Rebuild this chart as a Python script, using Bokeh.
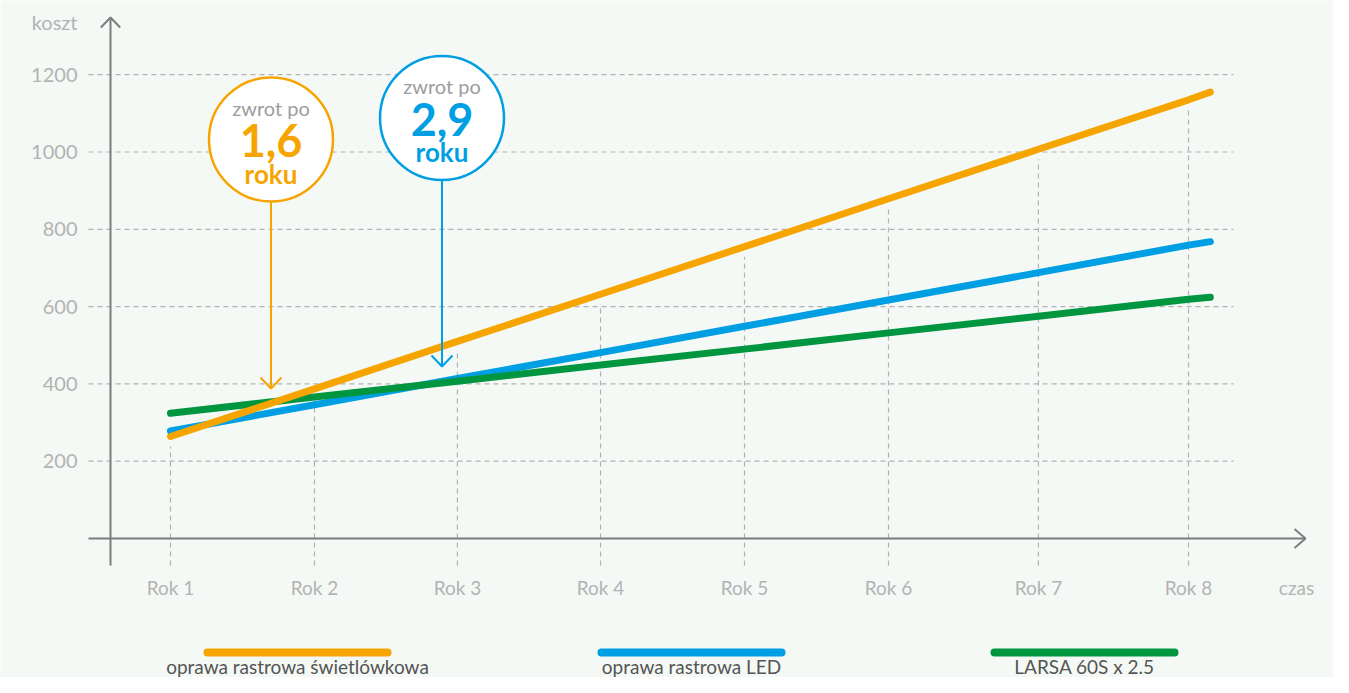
from bokeh.plotting import figure
from bokeh.models import Range1d
from bokeh.core.properties import value
from bokeh.embed import file_html
from bokeh.resources import INLINE

# ---------------- data ----------------
years = ["Rok 1", "Rok 2", "Rok 3", "Rok 4", "Rok 5", "Rok 6", "Rok 7", "Rok 8"]
# category positions along the time axis (the drawing spaces them slightly unevenly)
year_pos = [1.0, 1.99, 2.973, 3.957, 4.947, 5.937, 6.968, 8.0]
line_end_pos = 8.15  # lines run a little past "Rok 8"

# cost read at each year, plus the value at the line's end
swietlowkowa = [264, 387, 510, 632, 755, 879, 1007, 1135, 1155]
led = [278, 346, 414, 481, 549, 617, 688, 759, 768]
larsa = [324, 366, 407, 449, 490, 532, 575, 619, 624]

series_names = ["oprawa rastrowa świetlówkowa", "oprawa rastrowa LED", "LARSA 60S x 2.5"]
series_colors = ["#F6A500", "#009FE3", "#009640"]

y_ticks = [200, 400, 600, 800, 1000, 1200]
y_title = "koszt"
x_title = "czas"

payback_labels = ["1,6", "2,9"]
payback_colors = ["#F6A500", "#009FE3"]

# ---------------- layout helpers ----------------
W, H = 1333, 677
XS = 145.43   # px per year
YS = 0.3865   # px per unit of cost
X0_PX, Y0_PX = 170, 538  # px of (Rok 1, 0)


def X(px):
    return 1 + (px - X0_PX) / XS


def Y(py):
    return (Y0_PX - py) / YS


BG = "#f4f9f6"
AXIS_C = "#7d7d7d"
GRID_C = "#b2b2b2"
TICK_C = "#b3b3b3"
FONT = "Lato"

p = figure(width=W, height=H, output_backend="svg", toolbar_location=None,
           x_range=Range1d(X(0), X(W)), y_range=Range1d(Y(H), Y(0)),
           min_border=0, outline_line_color=None,
           background_fill_color=BG, border_fill_color=BG)
p.axis.visible = False
p.grid.visible = False

# horizontal dashed grid
p.segment(x0=[X(88)] * len(y_ticks), y0=y_ticks, x1=[X(1233)] * len(y_ticks), y1=y_ticks,
          line_color=GRID_C, line_width=1.2, line_dash="5 4")

# vertical dashed grid, from below the axis up to just under the top series
p.segment(x0=year_pos, y0=[Y(565)] * 8, x1=year_pos, y1=[v - 26 for v in swietlowkowa[:8]],
          line_color=GRID_C, line_width=1.2, line_dash="5 4")

# axes with open arrow heads
p.line([X(110), X(110)], [Y(565), Y(17)], line_color=AXIS_C, line_width=2)
p.line([X(110) - 9.7 / XS, X(110), X(110) + 9.7 / XS], [Y(27), Y(17), Y(27)],
       line_color=AXIS_C, line_width=2)
p.line([X(88), X(1305)], [0, 0], line_color=AXIS_C, line_width=2)
p.line([X(1294), X(1305), X(1294)], [Y(528.5), 0, Y(547.5)], line_color=AXIS_C, line_width=2)

# tick labels and axis titles
p.text(x=[X(77)] * len(y_ticks), y=y_ticks, text=[str(t) for t in y_ticks],
       text_align="right", text_baseline="middle", text_color=TICK_C,
       text_font=value(FONT), text_font_size="20px")
p.text(x=[X(77)], y=[Y(21)], text=[y_title], text_align="right", text_baseline="middle",
       text_color=TICK_C, text_font=value(FONT), text_font_size="20px")
p.text(x=year_pos, y=[Y(587)] * 8, text=years, text_align="center", text_baseline="middle",
       text_color=TICK_C, text_font=value(FONT), text_font_size="19px")
p.text(x=[X(1296)], y=[Y(587)], text=[x_title], text_align="center", text_baseline="middle",
       text_color=TICK_C, text_font=value(FONT), text_font_size="19px")

# series lines (blue, green, then orange on top)
xs = year_pos + [line_end_pos]
for vals, col in [(led, series_colors[1]), (larsa, series_colors[2]), (swietlowkowa, series_colors[0])]:
    p.line(xs, vals, line_color=col, line_width=7, line_cap="round", line_join="round")

# payback callouts
callouts = [
    dict(cx=270.5, cy=139, tip=388, lab=payback_labels[0], col=payback_colors[0]),
    dict(cx=441.5, cy=117.5, tip=366, lab=payback_labels[1], col=payback_colors[1]),
]
R = 62
for c in callouts:
    cx = X(c["cx"])
    p.line([cx, cx], [Y(c["cy"] + R), Y(c["tip"])], line_color=c["col"], line_width=2)
    p.line([cx - 10.5 / XS, cx, cx + 10.5 / XS], [Y(c["tip"] - 11), Y(c["tip"]), Y(c["tip"] - 11)],
           line_color=c["col"], line_width=2)
    p.scatter([cx], [Y(c["cy"])], marker="circle", size=2 * R, fill_color="white",
              line_color=c["col"], line_width=2.5)
    p.text([cx], [Y(c["cy"] - 32)], text=["zwrot po"], text_align="center", text_baseline="middle",
           text_color="#9d9d9d", text_font=value(FONT), text_font_size="20px")
    p.text([cx], [Y(c["cy"] + 1)], text=[c["lab"]], text_align="center", text_baseline="middle",
           text_color=c["col"], text_font=value(FONT), text_font_size="45px", text_font_style="bold")
    p.text([cx], [Y(c["cy"] + 34)], text=["roku"], text_align="center", text_baseline="middle",
           text_color=c["col"], text_font=value(FONT), text_font_size="26px", text_font_style="bold")

# legend (kept inside the canvas)
leg_centers = [297, 691, 1084]
for name, col, lc in zip(series_names, series_colors, leg_centers):
    p.line([X(lc - 90), X(lc + 90)], [Y(652), Y(652)], line_color=col, line_width=8, line_cap="round")
    p.text([X(lc)], [Y(666)], text=[name], text_align="center", text_baseline="middle",
           text_color="#555555", text_font=value(FONT), text_font_size="19px")

open("out.html", "w").write(file_html(p, INLINE))
